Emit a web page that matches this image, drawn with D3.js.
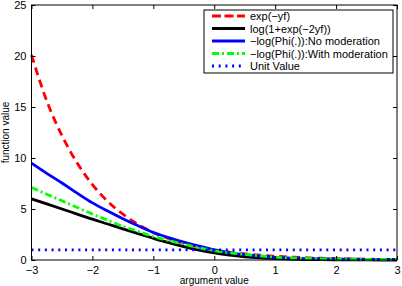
<!DOCTYPE html>
<html><head><meta charset="utf-8">
<script src="https://cdn.jsdelivr.net/npm/d3@7"></script>
<style>body{margin:0;background:#fff}svg{display:block}text{font-family:"Liberation Sans",Arial,sans-serif}</style>
</head><body><svg id="c" width="402" height="286"></svg>
<script>
const xs = [-3,-2.75,-2.5,-2.25,-2,-1.75,-1.5,-1.25,-1,-0.75,-0.5,-0.25,0,0.25,0.5,0.75,1,1.25,1.5,1.75,2,2.25,2.5,2.75,3];
const expLoss = [20.1,15.6,12.2,9.5,7.4,5.75,4.5,3.5,2.7,2.1,1.65,1.28,1.0,0.78,0.6,0.47,0.37,0.29,0.22,0.17,0.14,0.1,0.08,0.06,0.05];
const logLoss = [6.0,5.5,5.0,4.5,4.0,3.53,3.05,2.58,2.13,1.7,1.31,0.97,0.69,0.47,0.31,0.2,0.13,0.08,0.05,0.03,0.02,0.01,0.01,0,0];
const phiNoMod = [9.5,8.5,7.55,6.55,5.6,4.8,4.05,3.35,2.7,2.2,1.75,1.35,1.0,0.73,0.52,0.37,0.26,0.19,0.14,0.12,0.1,0.08,0.07,0.06,0.05];
const phiMod = [7.1,6.45,5.8,5.15,4.5,3.9,3.3,2.8,2.3,1.9,1.55,1.2,0.92,0.72,0.55,0.4,0.28,0.2,0.15,0.12,0.1,0.08,0.07,0.06,0.05];
const unitVal = [1,1,1,1,1,1,1,1,1,1,1,1,1,1,1,1,1,1,1,1,1,1,1,1,1];
const xTicks = [-3,-2,-1,0,1,2,3];
const yTicks = [0,5,10,15,20,25];
const seriesNames = ["exp(\u2212yf)","log(1+exp(\u22122yf))","\u2212log(Phi(.)):No moderation","\u2212log(Phi(.)):With moderation","Unit Value"];

const svg = d3.select("#c");
const L=31.5,R=397,T=5,B=260;
const x = d3.scaleLinear().domain([-3,3]).range([L,R]);
const y = d3.scaleLinear().domain([0,25]).range([B,T]);

const series = [
  {v:expLoss, color:"#ff0000", dash:"8,5"},
  {v:logLoss, color:"#000000", dash:null},
  {v:phiNoMod, color:"#0000ff", dash:null},
  {v:phiMod, color:"#00ff00", dash:"7,3,2,3"},
  {v:unitVal, color:"#0000ff", dash:"2,4.7"}
];
const line = d3.line().x((d,i)=>x(xs[i])).y(d=>y(d)).curve(d3.curveMonotoneX);
series.forEach(s=>{
  svg.append("path").attr("d",line(s.v)).attr("fill","none").attr("stroke",s.color)
    .attr("stroke-width",2.8).attr("stroke-dasharray",s.dash);
});

// axes box
svg.append("rect").attr("x",L).attr("y",T).attr("width",R-L).attr("height",B-T)
  .attr("fill","none").attr("stroke","#000").attr("stroke-width",1);
const fmt = d=> (d<0?"\u2212":"")+Math.abs(d);
const axB = svg.append("g").attr("transform",`translate(0,${B})`)
  .call(d3.axisBottom(x).tickValues(xTicks).tickSizeInner(-4).tickSizeOuter(0).tickPadding(6).tickFormat(fmt));
const axT = svg.append("g").attr("transform",`translate(0,${T})`)
  .call(d3.axisTop(x).tickValues(xTicks).tickSizeInner(-4).tickSizeOuter(0).tickFormat(""));
const axL = svg.append("g").attr("transform",`translate(${L},0)`)
  .call(d3.axisLeft(y).tickValues(yTicks).tickSizeInner(-4).tickSizeOuter(0).tickPadding(5).tickFormat(fmt));
const axR = svg.append("g").attr("transform",`translate(${R},0)`)
  .call(d3.axisRight(y).tickValues(yTicks).tickSizeInner(-4).tickSizeOuter(0).tickFormat(""));
[axB,axT,axL,axR].forEach(a=>{a.select(".domain").remove();a.selectAll("text").attr("font-size",11).attr("font-family","Liberation Sans, Arial, sans-serif").attr("fill","#000");a.selectAll("line").attr("stroke","#000");});

svg.append("text").attr("x",(L+R)/2).attr("y",284).attr("text-anchor","middle").attr("font-size",10).text("argument value");
svg.append("text").attr("transform",`translate(9,${(T+B)/2}) rotate(-90)`).attr("text-anchor","middle").attr("font-size",10).text("function value");

// legend
const lg = svg.append("g");
lg.append("rect").attr("x",204).attr("y",10).attr("width",189).attr("height",63).attr("fill","#fff").attr("stroke","#000").attr("stroke-width",1);
series.forEach((s,i)=>{
  const yy = 16+i*12.5;
  lg.append("line").attr("x1",212).attr("x2",245).attr("y1",yy).attr("y2",yy).attr("stroke",s.color).attr("stroke-width",2.8).attr("stroke-dasharray",s.dash===null?null:(i===0?"9,3.5":s.dash));
  lg.append("text").attr("x",250).attr("y",yy+4).attr("font-size",11).text(seriesNames[i]);
});
</script></body></html>
